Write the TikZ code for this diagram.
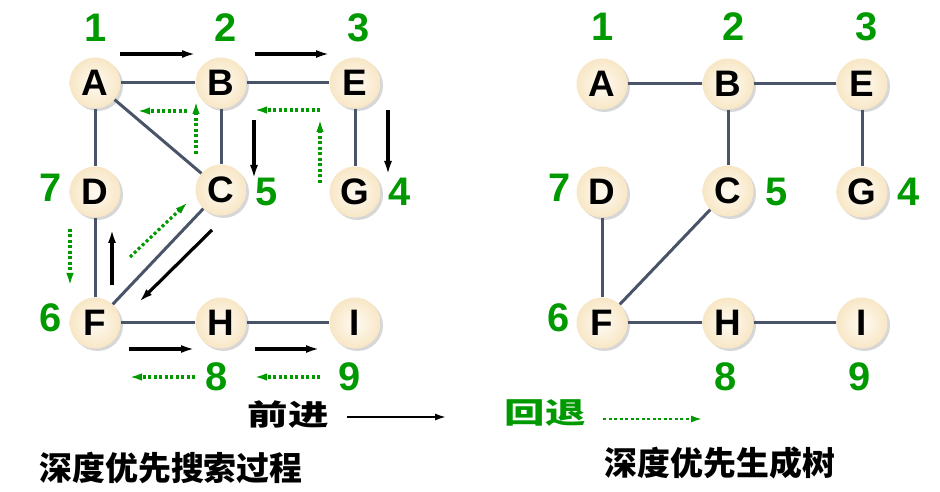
\documentclass[tikz,border=0pt]{standalone}
\usepackage{fontspec}
\setmainfont{Liberation Sans}
\newfontfamily\cjk{Noto Sans CJK SC}
\usetikzlibrary{arrows.meta,shadows}
\definecolor{numgreen}{HTML}{009900}
\definecolor{edgecol}{HTML}{4A5468}
\definecolor{nodein}{HTML}{FEFAF2}
\definecolor{nodeout}{HTML}{F8E7C6}
\tikzset{
  vert/.style={circle, minimum size=51bp, inner sep=0pt, inner color=nodein, outer color=nodeout,
    drop shadow={shadow xshift=2.5bp, shadow yshift=-2.5bp, fill=black!22, opacity=0.7},
    font=\fontsize{37}{37}\selectfont\bfseries},
  num/.style={text=numgreen, inner sep=0pt, font=\fontsize{40}{40}\selectfont\bfseries},
  edge/.style={draw=edgecol, line width=3bp},
  fwd/.style={draw=black, line width=3.2bp, -{Latex[length=14bp,width=8bp]}},
  back/.style={draw=numgreen, line width=3.2bp, dash pattern=on 3bp off 2.5bp, -{Latex[length=13bp,width=7.5bp]}},
  ttl/.style={inner sep=0pt, font=\cjk\bfseries\fontsize{33}{33}\selectfont},
  leg/.style={inner sep=0pt, font=\cjk\bfseries\fontsize{29}{29}\selectfont}
}
\begin{document}
\begin{tikzpicture}[x=1bp,y=-1bp]
\useasboundingbox[fill=white] (0,0) rectangle (940,492);
% ---------- left graph ----------
\node[vert] (lA) at (95,83) {A};
\node[vert] (lB) at (221,83) {B};
\node[vert] (lE) at (355,83) {E};
\node[vert] (lD) at (95,192) {D};
\node[vert] (lC) at (221,190) {C};
\node[vert] (lG) at (355,192) {G};
\node[vert] (lF) at (95,323) {F};
\node[vert] (lH) at (221,323) {H};
\node[vert] (lI) at (355,323) {I};
\draw[edge] (lA) -- (lB);
\draw[edge] (lB) -- (lE);
\draw[edge] (lA) -- (lD);
\draw[edge] (lA) -- (lC);
\draw[edge] (lB) -- (lC);
\draw[edge] (lE) -- (lG);
\draw[edge] (lD) -- (lF);
\draw[edge] (lC) -- (lF);
\draw[edge] (lF) -- (lH);
\draw[edge] (lH) -- (lI);
\node[num] (ln1) at (96,28) {1};
\node[num] (ln2) at (226,28) {2};
\node[num] (ln3) at (359,28) {3};
\node[num] (ln7) at (51,188) {7};
\node[num] (ln5) at (267,192) {5};
\node[num] (ln4) at (400,192) {4};
\node[num] (ln6) at (51,318) {6};
\node[num] (ln8) at (217,377) {8};
\node[num] (ln9) at (350,377) {9};
% arrow end points
\coordinate (f1s) at (120,54);  \coordinate (f1e) at (196,54);
\coordinate (f2s) at (255,54);  \coordinate (f2e) at (330,54);
\coordinate (f3s) at (254,120); \coordinate (f3e) at (254,179);
\coordinate (f4s) at (388,110); \coordinate (f4e) at (388,175);
\coordinate (f5s) at (112,285); \coordinate (f5e) at (112,229);
\coordinate (f6s) at (212,230); \coordinate (f6e) at (139,302);
\coordinate (f7s) at (129,349); \coordinate (f7e) at (195,349);
\coordinate (f8s) at (255,349); \coordinate (f8e) at (320,349);
\coordinate (b1s) at (187,111); \coordinate (b1e) at (137,111);
\coordinate (b2s) at (196,154); \coordinate (b2e) at (196,101);
\coordinate (b3s) at (320,110); \coordinate (b3e) at (254,110);
\coordinate (b4s) at (320,183); \coordinate (b4e) at (320,119);
\coordinate (b5s) at (70,229);  \coordinate (b5e) at (70,286);
\coordinate (b6s) at (130,257); \coordinate (b6e) at (188,202);
\coordinate (b7s) at (195,377); \coordinate (b7e) at (129,377);
\coordinate (b8s) at (320,377); \coordinate (b8e) at (254,377);
\foreach \i in {1,...,8} {\draw[fwd] (f\i s) -- (f\i e);}
\foreach \i in {1,...,8} {\draw[back] (b\i s) -- (b\i e);}
% ---------- right graph ----------
\node[vert] (rA) at (602,84) {A};
\node[vert] (rB) at (728,84) {B};
\node[vert] (rE) at (862,84) {E};
\node[vert] (rD) at (602,192) {D};
\node[vert] (rC) at (728,191) {C};
\node[vert] (rG) at (862,192) {G};
\node[vert] (rF) at (602,323) {F};
\node[vert] (rH) at (728,323) {H};
\node[vert] (rI) at (862,323) {I};
\draw[edge] (rA) -- (rB);
\draw[edge] (rB) -- (rE);
\draw[edge] (rB) -- (rC);
\draw[edge] (rE) -- (rG);
\draw[edge] (rD) -- (rF);
\draw[edge] (rC) -- (rF);
\draw[edge] (rF) -- (rH);
\draw[edge] (rH) -- (rI);
\node[num] (rn1) at (603,27) {1};
\node[num] (rn2) at (734,27) {2};
\node[num] (rn3) at (867,27) {3};
\node[num] (rn7) at (560,188) {7};
\node[num] (rn5) at (777,192) {5};
\node[num] (rn4) at (909,192) {4};
\node[num] (rn6) at (559,318) {6};
\node[num] (rn8) at (726,377) {8};
\node[num] (rn9) at (860,377) {9};
% ---------- legend ----------
\node[leg] (lgf) at (288,415) {\scalebox{1.4}[1]{前进}};
\coordinate (lgfs) at (347,417); \coordinate (lgfe) at (447,417);
\draw[fwd, line width=2.8bp, -{Latex[length=12bp,width=7bp]}] (lgfs) -- (lgfe);
\node[leg, text=numgreen] (lgb) at (545,413) {\scalebox{1.4}[1]{回退}};
\coordinate (lgbs) at (603,419); \coordinate (lgbe) at (703,419);
\draw[back, line width=2.8bp, -{Latex[length=12bp,width=7bp]}] (lgbs) -- (lgbe);
% ---------- titles ----------
\node[ttl] (t1) at (171,468) {深度优先搜索过程};
\node[ttl] (t2) at (720,463) {深度优先生成树};
\end{tikzpicture}
\end{document}
